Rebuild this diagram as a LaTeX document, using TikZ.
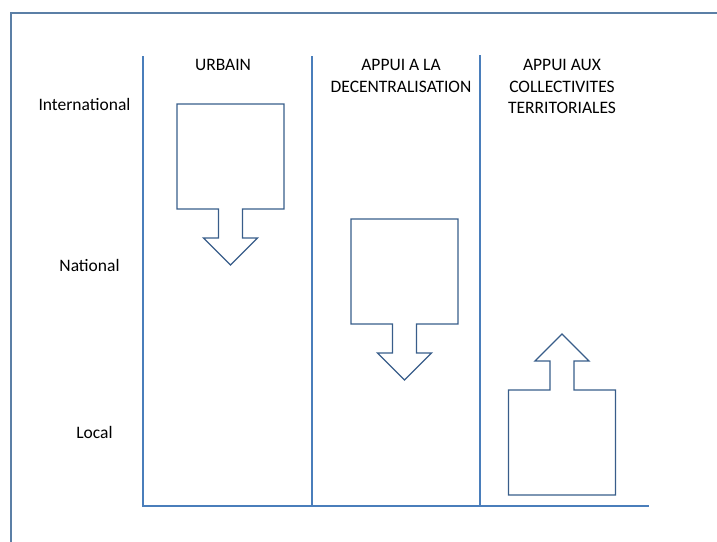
\documentclass[tikz,border=0pt]{standalone}
\usepackage{fontspec}
\setmainfont{Carlito}
\definecolor{axisblue}{HTML}{4A7EBB}
\definecolor{shapeblue}{HTML}{385D8A}
\definecolor{framegray}{HTML}{5B7FA6}

\begin{document}
\begin{tikzpicture}[x=1pt,y=-1pt,
    axis/.style={axisblue,line width=2.6pt},
    blockarrow/.style={shapeblue,line width=1.3pt,line join=miter},
    level/.style={anchor=base,inner sep=0,font=\fontsize{17.5}{21.5}\selectfont},
    column/.style={anchor=north,inner sep=0,align=center,font=\fontsize{17.5}{21.5}\selectfont}]
    \pgfmathsetmacro{\boxhalf}{53.5}
    \pgfmathsetmacro{\boxheight}{105}
    \pgfmathsetmacro{\stemhalf}{12}
    \pgfmathsetmacro{\stemend}{134}
    \pgfmathsetmacro{\headhalf}{27}
    \pgfmathsetmacro{\tipend}{161}
    % #1 centre x, #2 far edge of the box, #3 = 1 down / -1 up
    \providecommand{\blockarrow}[3]{
        \draw[blockarrow] ({#1-\boxhalf},{#2}) -- ({#1+\boxhalf},{#2})
            -- ({#1+\boxhalf},{#2+#3*\boxheight}) -- ({#1+\stemhalf},{#2+#3*\boxheight})
            -- ({#1+\stemhalf},{#2+#3*\stemend}) -- ({#1+\headhalf},{#2+#3*\stemend})
            -- ({#1},{#2+#3*\tipend}) -- ({#1-\headhalf},{#2+#3*\stemend})
            -- ({#1-\stemhalf},{#2+#3*\stemend}) -- ({#1-\stemhalf},{#2+#3*\boxheight})
            -- ({#1-\boxhalf},{#2+#3*\boxheight}) -- cycle;
    }
    \useasboundingbox (0,0) rectangle (717,541);
    \clip (0,0) rectangle (717,541);
    \draw[framegray,line width=1.2pt] (11,13) rectangle (740,560);

    % axes
    \coordinate (origin) at (143,506);
    \coordinate (urbaintop) at (143,56);
    \coordinate (decentrtop) at (312,56);
    \coordinate (decentrbot) at (312,506);
    \coordinate (collecttop) at (480,55);
    \coordinate (collectbot) at (480,506);
    \coordinate (xend) at (649,506);
    \draw[axis] (urbaintop) -- (origin) -- (xend);
    \draw[axis] (decentrtop) -- (decentrbot);
    \draw[axis] (collecttop) -- (collectbot);

    \node[level] (international) at (84.5,110.6) {International};
    \node[level] (national) at (89.5,271.6) {National};
    \node[level] (local) at (94.5,438.6) {Local};

    \node[level] (urbain) at (223,70.6) {URBAIN};
    \node[column] (decentr) at (401,59.4) {APPUI A LA\\DECENTRALISATION};
    \node[column] (collect) at (562,59.4) {APPUI AUX\\COLLECTIVITES\\TERRITORIALES};

    \blockarrow{230.5}{104}{1}
    \blockarrow{404.5}{219}{1}
    \blockarrow{562}{495}{-1}
\end{tikzpicture}
\end{document}
